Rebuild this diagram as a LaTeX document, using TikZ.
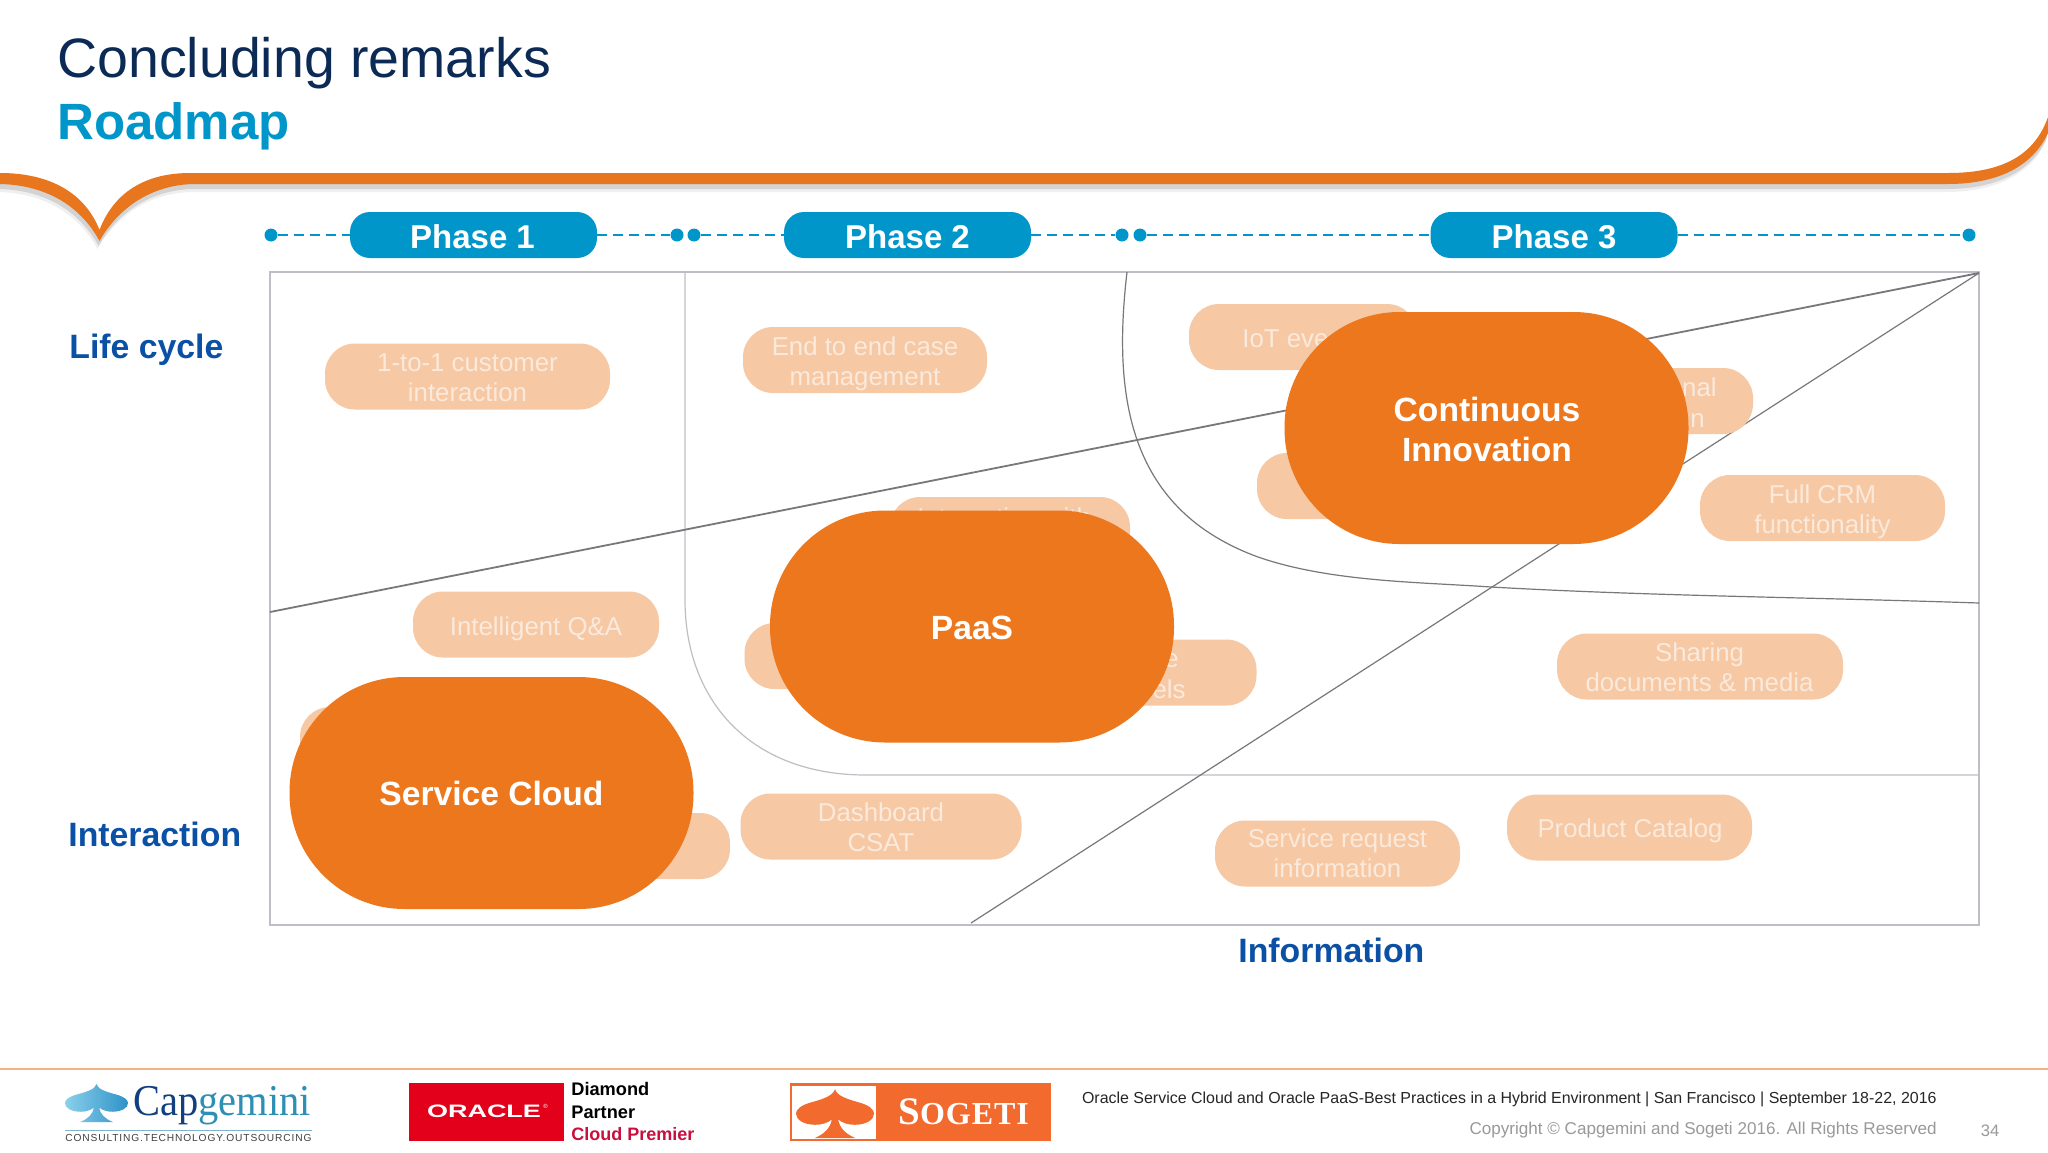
\documentclass[tikz,border=0pt]{standalone}
\usepackage{fontspec}
\setmainfont{Liberation Sans}
\newfontfamily\serifft{Liberation Serif}
\newfontfamily\tagft[LetterSpace=8.5]{Liberation Sans}
\newfontfamily\sogft[LetterSpace=3]{Liberation Serif}
\definecolor{bandor}{HTML}{E8761E}
\definecolor{bigor}{HTML}{EC771C}
\definecolor{pale}{HTML}{F6C8A4}
\definecolor{paletxt}{HTML}{FBEADC}
\definecolor{cyanb}{HTML}{0096C9}
\definecolor{navy}{HTML}{0B2A55}
\definecolor{labelb}{HTML}{0A50A5}
\definecolor{framec}{HTML}{BEBEC6}
\definecolor{linec}{HTML}{77777C}
\definecolor{footl}{HTML}{F4B183}
\definecolor{logol}{HTML}{7FB5CC}
\definecolor{oraclered}{HTML}{E2001A}
\definecolor{oraclecrim}{HTML}{C8103E}
\definecolor{sogor}{HTML}{F26A2E}
\definecolor{spadel}{HTML}{8AD0EA}
\definecolor{spader}{HTML}{2F92C8}
\newcommand{\fs}[2]{\fontsize{#1}{#2}\selectfont}
\newcommand{\bandpath}{(0,173) .. controls (50,173) and (85,193) .. (99.5,230) .. controls (112,197) and (140,173) .. (190,173) -- (1948,173) .. controls (1995,173) and (2033,160) .. (2048,117) -- (2048,133) .. controls (2032,168) and (1995,184) .. (1948,184) -- (196,184) .. controls (155,184) and (120,205) .. (99.5,241) .. controls (80,205) and (45,185) .. (0,184) -- cycle}
\newcommand{\spadepath}{(0.5,0) .. controls (0.48,0.13) and (0.36,0.2) .. (0.2,0.27) .. controls (0.06,0.33) and (0,0.42) .. (0,0.5) .. controls (0,0.63) and (0.1,0.73) .. (0.25,0.73) .. controls (0.33,0.73) and (0.41,0.69) .. (0.46,0.62) .. controls (0.44,0.8) and (0.36,0.92) .. (0.24,1) -- (0.76,1) .. controls (0.64,0.92) and (0.56,0.8) .. (0.54,0.62) .. controls (0.59,0.69) and (0.67,0.73) .. (0.75,0.73) .. controls (0.9,0.73) and (1,0.63) .. (1,0.5) .. controls (1,0.42) and (0.94,0.33) .. (0.8,0.27) .. controls (0.64,0.2) and (0.52,0.13) .. (0.5,0) -- cycle}
\tikzset{
  x=0.5pt,y=-0.5pt,
  dotn/.style={circle,fill=cyanb,inner sep=0pt,minimum size=6.5pt},
  phasepill/.style={rounded corners=10pt,fill=cyanb,minimum width=123.5pt,minimum height=23pt,inner sep=0pt},
  phasetxt/.style={text=white,inner sep=0pt,font=\bfseries\fs{16.5}{20}},
  dashline/.style={cyanb,line width=1.1pt,dash pattern=on 5pt off 3pt},
  smallpill/.style={rounded corners=15pt,fill=pale,inner sep=0pt,minimum height=33pt},
  pilltxt/.style={text=paletxt,inner sep=0pt,align=center,font=\fs{12.9}{15.2}},
  bigpill/.style={rounded corners=57.5pt,fill=bigor,inner sep=0pt,minimum width=202pt,minimum height=116pt},
  bigtxt/.style={text=white,inner sep=0pt,align=center,font=\bfseries\fs{16.8}{20.2}},
  axislabel/.style={text=labelb,inner sep=0pt,font=\bfseries\fs{16.9}{20}},
  frag/.style={text=paletxt,inner sep=0pt,font=\fs{12.9}{15.2}},
  thinl/.style={framec,line width=0.6pt},
  darkl/.style={linec,line width=0.9pt},
  midl/.style={linec,line width=0.6pt},
}
\begin{document}
\begin{tikzpicture}
\useasboundingbox (0,0) rectangle (2048,1152);
\fill[white] (0,0) rectangle (2048,1152);
% titles
\node[anchor=base west,inner sep=0pt,text=navy,font=\fs{27.75}{32}] (title) at (57,77) {Concluding remarks};
\node[anchor=base west,inner sep=0pt,text=cyanb,font=\bfseries\fs{25.5}{30}] (subtitle) at (57,139.5) {Roadmap};
% band with shadow
\fill[gray,opacity=0.12,shift={(-2,8)}] \bandpath;
\fill[gray,opacity=0.25,shift={(-1,5)}] \bandpath;
\fill[bandor] \bandpath;
% timeline
\node[dotn] (d1) at (271,235) {};
\node[dotn] (d2) at (677,235) {};
\node[dotn] (d3) at (694,235) {};
\node[dotn] (d4) at (1122,235) {};
\node[dotn] (d5) at (1140,235) {};
\node[dotn] (d6) at (1969,235) {};
\node[phasepill] (p1) at (473.5,235) {};
\node[phasepill] (p2) at (907.5,235) {};
\node[phasepill] (p3) at (1554,235) {};
\node[phasetxt] (pt1) at (472.5,236.5) {Phase 1};
\node[phasetxt] (pt2) at (907.5,236.5) {Phase 2};
\node[phasetxt] (pt3) at (1554,236.5) {Phase 3};
\draw[dashline] (d1) -- (p1);
\draw[dashline] (p1) -- (d2);
\draw[dashline] (d3) -- (p2);
\draw[dashline] (p2) -- (d4);
\draw[dashline] (d5) -- (p3);
\draw[dashline] (p3) -- (d6);
% frame and lines
\draw[framec,line width=1pt] (270,272) rectangle (1979,925);
\draw[thinl] (685,272) -- (685,600) .. controls (685,700) and (750,775) .. (866,775) -- (1979,775);
\draw[midl] (1127,272) .. controls (1112,400) and (1130,510) .. (1258,557) .. controls (1330,582) and (1420,582) .. (1491,587) .. controls (1650,596) and (1800,597) .. (1979,603);
\coordinate (la) at (270,612);
\coordinate (lb) at (1979,273);
\coordinate (lc) at (971,923);
\draw[darkl] (la) -- (lb);
\draw[midl] (lc) -- (lb);
% small pills
\node[smallpill,minimum width=142.5pt] (s1) at (467.5,376.5) {};
\node[pilltxt] (t1) at (467.5,378) {1-to-1 customer\\interaction};
\node[smallpill,minimum width=122pt] (s2) at (865,360) {};
\node[pilltxt] (t2) at (865,364) {End to end case\\management};
\node[smallpill,minimum width=114pt] (s3) at (1303,337) {};
\node[frag,anchor=base west] (f3) at (1242,347) {IoT eve};
\node[smallpill,minimum width=122.5pt] (s4) at (1630.5,401) {};
\node[frag,anchor=base east] (f4a) at (1717,396) {nal};
\node[frag,anchor=base east] (f4b) at (1705,427) {n};
\node[smallpill,minimum width=122.5pt] (s5) at (1379.5,486) {};
\node[smallpill,minimum width=122.5pt] (s6) at (1822.5,508) {};
\node[pilltxt] (t6) at (1822.5,512) {Full CRM\\functionality};
\node[smallpill,minimum width=120pt] (s7) at (1010,530) {};
\node[frag,anchor=base west] (f7) at (917,526) {Interaction with};
\node[smallpill,minimum width=123pt] (s8) at (536,624.5) {};
\node[pilltxt] (t8) at (536,628.5) {Intelligent Q\&A};
\node[smallpill,minimum width=122.5pt] (s9) at (867,656) {};
\node[smallpill,minimum width=122.5pt] (s10) at (1134,672.5) {};
\node[frag,anchor=base east] (f10a) at (1179,667) {e};
\node[frag,anchor=base east] (f10b) at (1186,698) {els};
\node[smallpill,minimum width=143pt] (s11) at (1700,666.5) {};
\node[pilltxt] (t11) at (1699.5,667.5) {Sharing\\documents \& media};
\node[smallpill,minimum width=122.5pt] (s12) at (422.5,740) {};
\node[smallpill,minimum width=122.5pt] (s13) at (607.5,846) {};
\node[smallpill,minimum width=140.5pt] (s14) at (881,826.5) {};
\node[pilltxt] (t14) at (881,827.5) {Dashboard\\CSAT};
\node[smallpill,minimum width=122.5pt] (s15) at (1337.5,853.5) {};
\node[pilltxt] (t15) at (1337.5,853.5) {Service request\\information};
\node[smallpill,minimum width=122.5pt] (s16) at (1629.5,827.5) {};
\node[pilltxt] (t16) at (1630,830.5) {Product Catalog};
% big pills
\node[bigpill] (b1) at (1486.5,428) {};
\node[bigtxt] (bt1) at (1487,429.5) {Continuous\\Innovation};
\node[bigpill] (b2) at (972,626.5) {};
\node[bigtxt] (bt2) at (972,628) {PaaS};
\node[bigpill] (b3) at (491.5,793) {};
\node[bigtxt] (bt3) at (491.5,793) {Service Cloud};
% axis labels
\node[axislabel,anchor=base west] (l1) at (69,358) {Life cycle};
\node[axislabel,anchor=base west] (l2) at (68,846) {Interaction};
\node[axislabel,anchor=base west] (l3) at (1238,962) {Information};
% footer
\draw[footl,line width=0.8pt] (0,1069) -- (2048,1069);
% Capgemini logo
\begin{scope}[shift={(65,1084)},x=31.5pt,y=-19pt]
\shade[left color=spadel,right color=spader] \spadepath;
\end{scope}
\node[anchor=base west,inner sep=0pt,font=\serifft\fs{22}{26}] (capg) at (133,1115) {\scalebox{0.92}[1]{\textcolor[HTML]{123F7F}{Cap}\textcolor[HTML]{2E8FB5}{gemini}}};
\draw[logol] (65,1130) -- (312,1130);
\node[anchor=center,inner sep=0pt,text=black!75,font=\tagft\fs{5.1}{6}] (capt) at (188.5,1138) {CONSULTING.TECHNOLOGY.OUTSOURCING};
% Oracle logo
\fill[oraclered] (409,1083) rectangle (563.5,1141);
\node[inner sep=0pt,text=white,font=\bfseries\fs{9}{11}] (orc) at (484,1111) {\scalebox{1.5}[1]{ORACLE}};
\node[anchor=west,inner sep=0pt,text=white,font=\fs{3}{4}] (orr) at (543,1106) {®};
\node[anchor=base west,inner sep=0pt,text=black,font=\bfseries\fs{9.1}{11}] (dp1) at (571,1095) {Diamond};
\node[anchor=base west,inner sep=0pt,text=black,font=\bfseries\fs{9.1}{11}] (dp2) at (571,1118) {Partner};
\node[anchor=base west,inner sep=0pt,text=oraclecrim,font=\bfseries\fs{9}{11}] (dp3) at (571,1140) {Cloud Premier};
% Sogeti logo
\fill[sogor] (789.5,1083) rectangle (1050.5,1141);
\fill[white] (792,1085.5) rectangle (876,1138.5);
\begin{scope}[shift={(796,1089)},x=39pt,y=-24.5pt]
\fill[sogor] \spadepath;
\end{scope}
\node[anchor=base west,inner sep=0pt,text=white,font=\sogft\bfseries\fs{16}{20}] (sog) at (898,1124) {{\fs{19.5}{20}S}OGETI};
% footer text
\node[anchor=east,inner sep=0pt,text=black!85,font=\fs{7.98}{10}] (ft1) at (1937,1099) {Oracle Service Cloud and Oracle PaaS-Best Practices in a Hybrid Environment | San Francisco | September 18-22, 2016};
\node[anchor=east,inner sep=0pt,text=black!40,font=\fs{8.54}{10}] (ft2) at (1937,1130) {Copyright © Capgemini and Sogeti 2016. All Rights Reserved};
\node[anchor=center,inner sep=0pt,text=black!40,font=\fs{8.3}{10}] (pg) at (1990,1131) {34};
\end{tikzpicture}
\end{document}
